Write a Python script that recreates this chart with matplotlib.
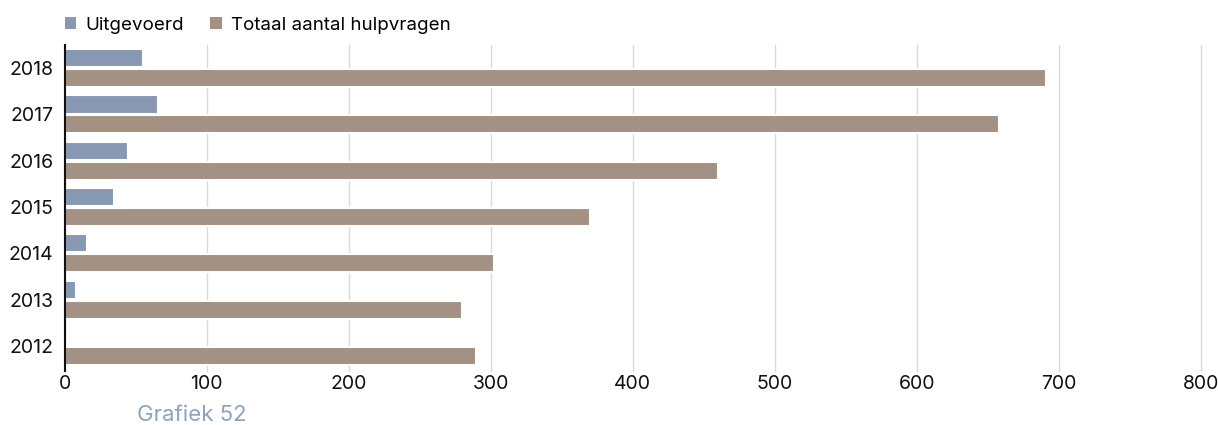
import matplotlib.pyplot as plt
import numpy as np

# Data
years = ["2012", "2013", "2014", "2015", "2016", "2017", "2018"]
uitgevoerd = [0, 8, 16, 35, 45, 66, 55]
totaal = [290, 280, 302, 370, 460, 658, 691]

col_u = "#8799b2"
col_t = "#a39183"

plt.rcParams['font.family'] = ['Inter', 'DejaVu Sans']

fig = plt.figure(figsize=(12.18, 4.25), dpi=100)
ax = fig.add_axes([64.5 / 1218, 54 / 425, (1201 - 64.5) / 1218, (380 - 54) / 425])

y = np.arange(len(years))
h = 0.39
ax.barh(y + 0.215, uitgevoerd, height=h, color=col_u, edgecolor="white",
        linewidth=1.5, label="Uitgevoerd", zorder=3)
ax.barh(y - 0.215, totaal, height=h, color=col_t, edgecolor="white",
        linewidth=1.5, label="Totaal aantal hulpvragen", zorder=3)

ax.set_xlim(0, 800)
ax.set_ylim(-0.54, 6.5)
ax.set_xticks(range(0, 801, 100))
ax.set_yticks(y)
ax.set_yticklabels(years)
ax.tick_params(axis="both", length=0, labelsize=14, colors="#111111")
ax.tick_params(axis="x", pad=3)
ax.tick_params(axis="y", pad=8)

ax.grid(axis="x", color="#dadada", linewidth=1.0, zorder=0)
for gl in ax.get_xgridlines():
    gl.set_clip_on(False)
for s in ["top", "right", "bottom"]:
    ax.spines[s].set_visible(False)
ax.spines["left"].set_color("#111111")
ax.spines["left"].set_linewidth(1.5)
ax.spines["left"].set_zorder(4)

leg = fig.legend(loc="center left", bbox_to_anchor=(48 / 1218, 1 - 25 / 425), ncol=2,
                 frameon=False, fontsize=13.5, handlelength=0.6, handleheight=0.6,
                 handletextpad=0.5, columnspacing=1.4)
for hd in leg.legend_handles:
    hd.set_edgecolor("none")

fig.text(137 / 1218, 1 - 415 / 425, "Grafiek 52", color="#8fa2bb",
         fontsize=16, va="center", ha="left")

fig.savefig("out.png", dpi=100)
